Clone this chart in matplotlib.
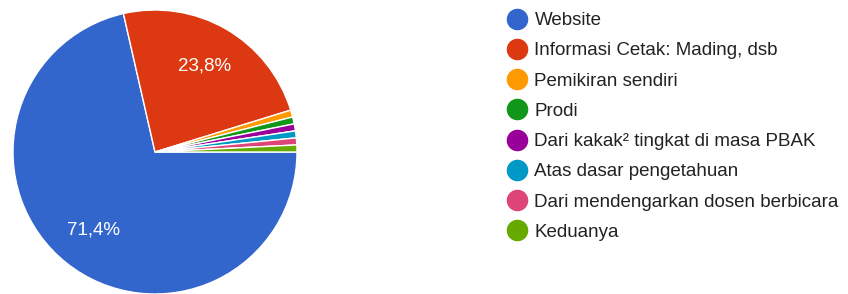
import matplotlib
matplotlib.use("Agg")
import matplotlib.pyplot as plt
from matplotlib.lines import Line2D

labels = ["Website", "Informasi Cetak: Mading, dsb", "Pemikiran sendiri", "Prodi",
          "Dari kakak² tingkat di masa PBAK", "Atas dasar pengetahuan",
          "Dari mendengarkan dosen berbicara", "Keduanya"]
counts = [90, 30, 1, 1, 1, 1, 1, 1]
colors = ["#3366cc", "#dc3912", "#ff9900", "#109618", "#990099", "#0099c6", "#dd4477", "#66aa00"]

plt.rcParams['font.family'] = ['Liberation Sans', 'DejaVu Sans']

W, H = 848, 294
fig = plt.figure(figsize=(W / 100, H / 100), dpi=100)
cx, cy, r = 155, 152, 142
ax = fig.add_axes([(cx - r) / W, (H - cy - r) / H, 2 * r / W, 2 * r / H])

def fmt(p):
    return (f"{p:.1f}%".replace(".", ",")) if p > 5 else ""

wedges, texts, autotexts = ax.pie(
    counts, colors=colors, startangle=0, counterclock=False,
    autopct=fmt, pctdistance=0.7, radius=1,
    wedgeprops=dict(edgecolor="white", linewidth=1),
    textprops=dict(color="white", fontsize=13.5))
ax.set_xlim(-1, 1)
ax.set_ylim(-1, 1)
ax.set_aspect("equal")
ax.axis("off")

handles = [Line2D([], [], marker="o", linestyle="none", markersize=14.5,
                  markerfacecolor=c, markeredgecolor=c) for c in colors]
fig.legend(handles, labels, loc="upper left",
           bbox_to_anchor=(506 / W, 1 - 12 / H), frameon=False,
           fontsize=13.5, labelspacing=0.7, handletextpad=0.32,
           handlelength=1.2, borderpad=0, borderaxespad=0,
           labelcolor="#222222")

fig.savefig("out.png", dpi=100)
